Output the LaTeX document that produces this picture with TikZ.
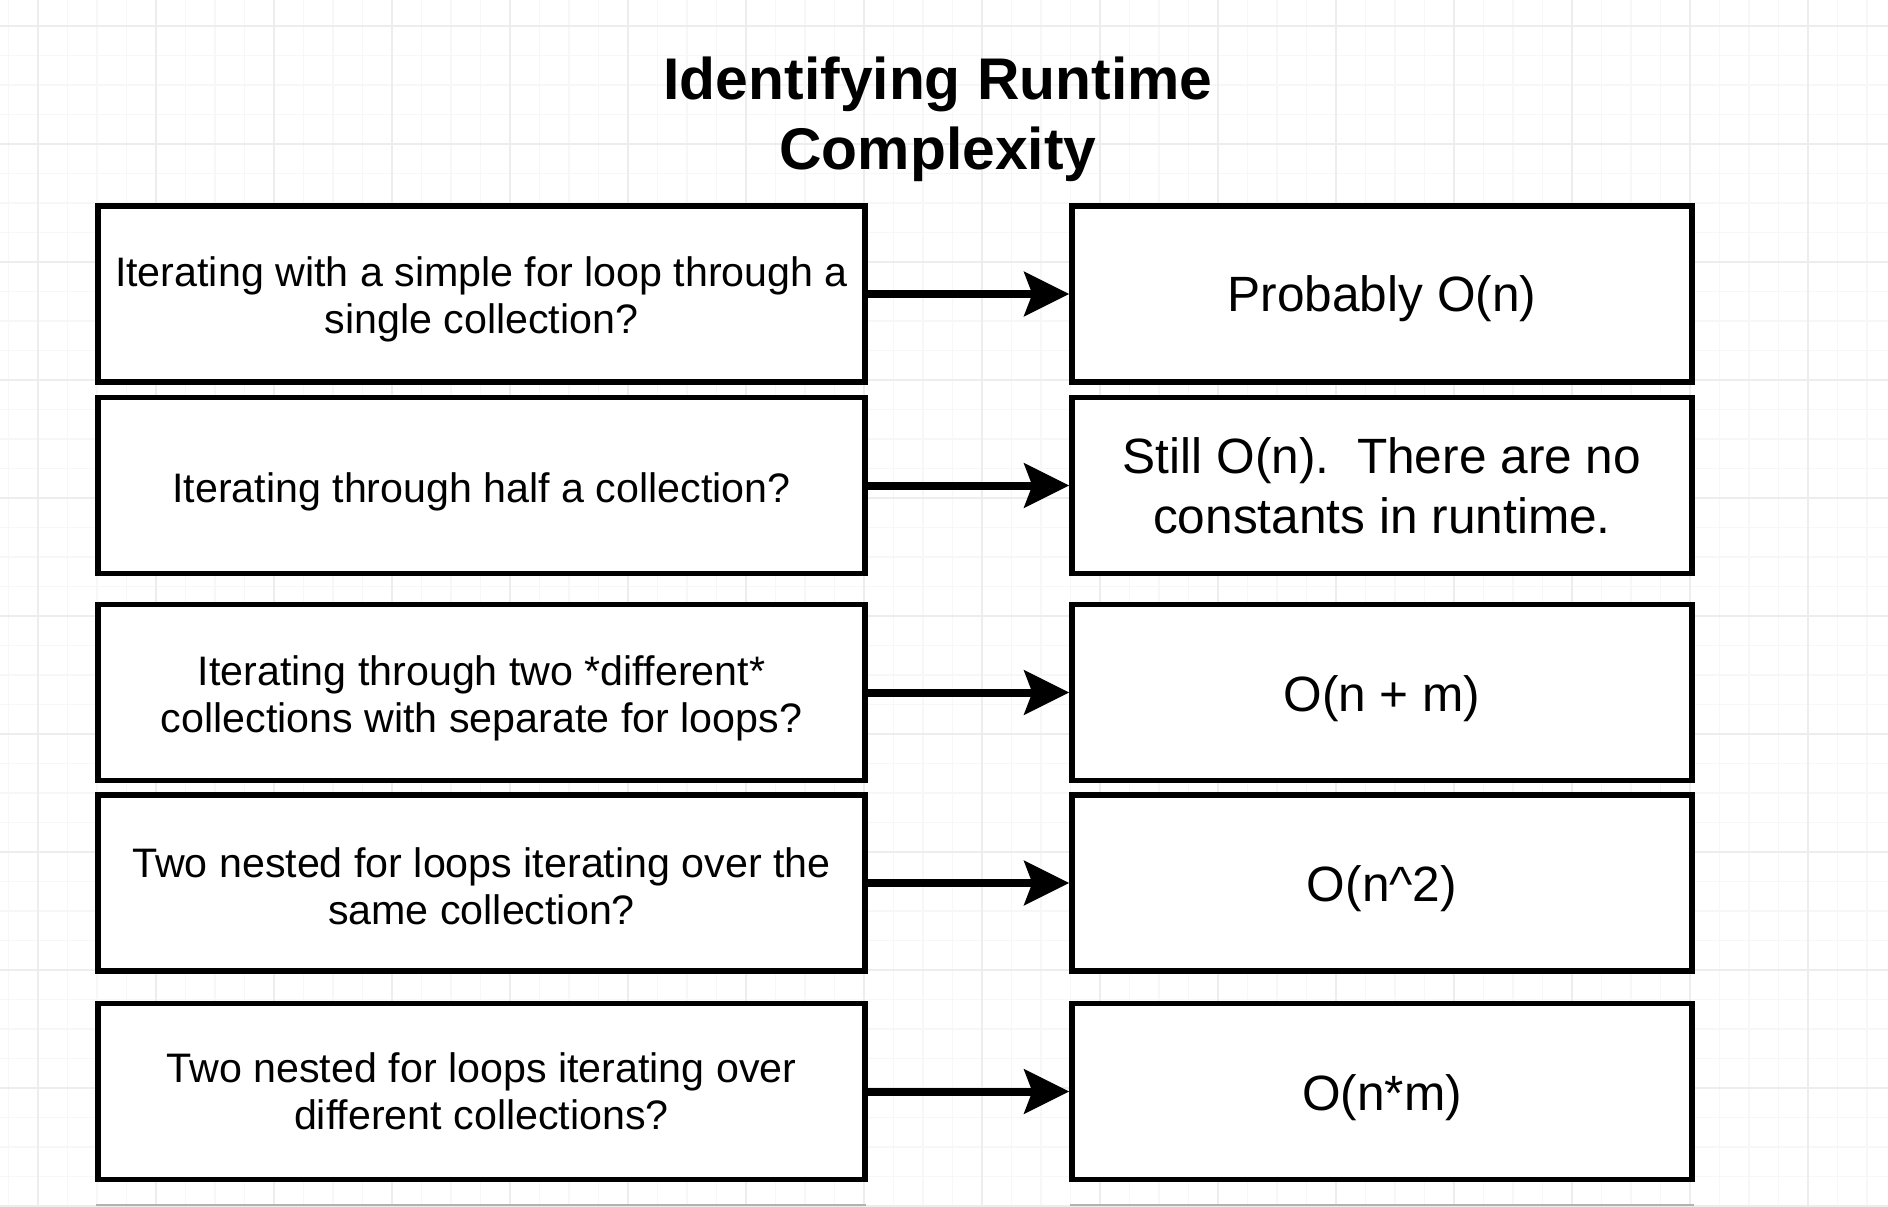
\documentclass[tikz,border=0pt]{standalone}
\usepackage{fontspec}
\setmainfont{Liberation Sans}
\usetikzlibrary{arrows.meta}
\begin{document}
\begin{tikzpicture}[x=0.5pt,y=-0.5pt,
  minorgrid/.style={draw=black!3, line width=0.6pt},
  majorgrid/.style={draw=black!7, line width=0.7pt},
  boxbase/.style={draw=black, fill=white, line width=2.7pt, minimum height=88pt, inner sep=0pt},
  qbox/.style={boxbase, minimum width=383.5pt},
  abox/.style={boxbase, minimum width=310pt},
  qtext/.style={inner sep=0pt, align=center, font=\fontsize{20.6pt}{23.5pt}\selectfont},
  atext/.style={inner sep=0pt, align=center, font=\fontsize{24.8pt}{30pt}\selectfont},
  arr/.style={line width=4pt, -{Stealth[length=22.5pt,width=22pt,inset=4pt]}},
  titlestyle/.style={inner sep=0pt, align=center, font=\bfseries\fontsize{29.4pt}{35pt}\selectfont}
]
\useasboundingbox (0,0) rectangle (1888,1206);
\begin{scope}
\clip (0,0) rectangle (1888,1206);
\fill[white] (0,0) rectangle (1888,1206);
\foreach \i in {0,...,64} {\draw[minorgrid] ({8.5+29.5*\i},0) -- ({8.5+29.5*\i},1206);}
\foreach \i in {0,...,41} {\draw[minorgrid] (0,{26+29.5*\i}) -- (1888,{26+29.5*\i});}
\foreach \i in {0,...,15} {\draw[majorgrid] ({38+118*\i},0) -- ({38+118*\i},1206);}
\foreach \i in {0,...,10} {\draw[majorgrid] (0,{26+118*\i}) -- (1888,{26+118*\i});}
\draw[black!30, line width=1pt] (96,1205) -- (866,1205);
\draw[black!30, line width=1pt] (1070,1205) -- (1694,1205);
\end{scope}

\node[titlestyle] (title) at (938,119) {Identifying Runtime\\Complexity};

\node[qbox] (q1) at (481.5,294) {};
\node[qbox] (q2) at (481.5,485.5) {};
\node[qbox] (q3) at (481.5,692.5) {};
\node[qbox] (q4) at (481.5,883) {};
\node[qbox] (q5) at (481.5,1091.5) {};

\node[abox] (a1) at (1382,294) {};
\node[abox] (a2) at (1382,485.5) {};
\node[abox] (a3) at (1382,692.5) {};
\node[abox] (a4) at (1382,883) {};
\node[abox] (a5) at (1382,1091.5) {};

\node[qtext] (q1t) at ([yshift=-2.5pt]q1.center) {Iterating with a simple for loop through a\\single collection?};
\node[qtext] (q2t) at ([yshift=-3pt]q2.center) {Iterating through half a collection?};
\node[qtext] (q3t) at ([yshift=-3pt]q3.center) {Iterating through two *different*\\collections with separate for loops?};
\node[qtext] (q4t) at ([yshift=-1.5pt]q4.center) {Two nested for loops iterating over the\\same collection?};
\node[qtext] (q5t) at (q5.center) {Two nested for loops iterating over\\different collections?};

\node[atext] (a1t) at ([yshift=-2.5pt]a1.center) {Probably O(n)};
\node[atext] (a2t) at (a2.center) {Still O(n).\ \ There are no\\constants in runtime.};
\node[atext] (a3t) at ([yshift=-3pt]a3.center) {O(n + m)};
\node[atext] (a4t) at ([yshift=-3pt]a4.center) {O(n\textasciicircum 2)};
\node[atext] (a5t) at ([yshift=-3pt]a5.center) {O(n*m)};

\draw[arr] (q1) -- (a1);
\draw[arr] (q2) -- (a2);
\draw[arr] (q3) -- (a3);
\draw[arr] (q4) -- (a4);
\draw[arr] (q5) -- (a5);
\end{tikzpicture}
\end{document}
